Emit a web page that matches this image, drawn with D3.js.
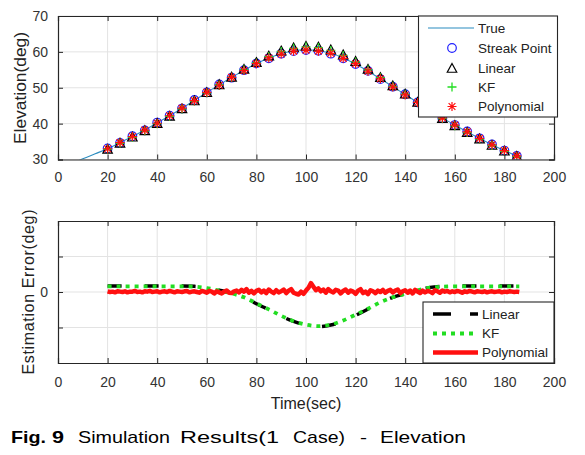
<!DOCTYPE html>
<html><head><meta charset="utf-8">
<script src="https://cdn.jsdelivr.net/npm/d3@7"></script>
<style>
html,body{margin:0;padding:0;background:#fff;}
svg{display:block;font-family:"Liberation Sans",Arial,sans-serif;}
</style></head>
<body><svg id="c" width="585" height="455"></svg>
<script>
// ---- data ----
const trueTime = [5,10,15,20,25,30,35,40,45,50,55,60,65,70,75,80,85,90,95,100,105,110,115,120,125,130,135,140,145,150,155,160,165,170,175,180,185];
const trueElev = [28.5,30.2,31.6,33.0,34.7,36.4,38.2,40.2,42.2,44.3,46.5,48.7,50.8,52.9,54.9,56.7,58.3,59.5,60.3,60.6,60.3,59.6,58.3,56.6,54.6,52.5,50.3,48.1,45.9,43.7,41.6,39.6,37.7,35.9,34.1,32.5,31.0];

const markTime = [20,25,30,35,40,45,50,55,60,65,70,75,80,85,90,95,100,105,110,115,120,125,130,135,140,145,150,155,160,165,170,175,180,185];
const streakElev = [33.1,34.6,36.5,38.1,40.3,42.2,44.2,46.6,48.7,50.9,52.8,54.9,56.8,58.2,59.5,60.2,60.5,60.3,59.5,58.2,56.6,54.7,52.4,50.3,48.2,45.9,43.8,41.5,39.6,37.8,35.9,34.2,32.5,31.0];
const linearElev = [32.8,34.5,36.2,38.0,40.0,42.0,44.1,46.3,48.6,50.8,52.9,55.1,57.0,58.8,60.2,61.1,61.5,61.3,60.5,59.1,57.3,55.1,52.8,50.5,48.2,45.9,43.6,41.4,39.4,37.5,35.7,33.9,32.3,30.8];
const kfElev = [32.9,34.5,36.2,38.0,40.0,42.0,44.1,46.3,48.6,50.8,52.9,55.0,56.9,58.7,60.1,61.0,61.4,61.2,60.4,59.0,57.2,55.0,52.8,50.4,48.2,45.9,43.6,41.4,39.4,37.5,35.7,33.9,32.3,30.8];
const polyElev = [33.0,34.7,36.4,38.2,40.1,42.2,44.3,46.4,48.7,50.7,52.9,54.8,56.7,58.3,59.4,60.2,60.5,60.2,59.6,58.2,56.7,54.6,52.5,50.2,48.0,45.9,43.7,41.6,39.6,37.7,35.9,34.1,32.5,31.0];

const errTime = [20,25,30,35,40,45,50,55,60,65,70,75,80,85,90,95,100,105,110,115,120,125,130,135,140,145,150,155,160,165,170,175,180,186];
const linearErr = [0.17,0.17,0.17,0.17,0.17,0.17,0.17,0.16,0.12,0.05,-0.03,-0.15,-0.33,-0.50,-0.68,-0.83,-0.93,-0.98,-0.93,-0.82,-0.66,-0.48,-0.30,-0.15,-0.05,0.05,0.13,0.16,0.17,0.17,0.17,0.17,0.17,0.17];
const kfErr = [0.16,0.16,0.16,0.16,0.16,0.16,0.16,0.15,0.11,0.04,-0.04,-0.15,-0.32,-0.49,-0.67,-0.82,-0.92,-0.96,-0.92,-0.80,-0.64,-0.47,-0.29,-0.15,-0.05,0.05,0.12,0.15,0.16,0.16,0.16,0.16,0.16,0.16];
const polyStart = 20;
const polyErr = [
0.02,0.00,0.01,-0.01,0.02,0.01,0.00,0.02,-0.01,0.01,
0.01,0.03,0.00,0.01,-0.01,0.02,0.01,0.03,0.00,0.01,
0.02,-0.01,0.01,0.02,0.00,0.03,0.01,-0.01,0.02,0.01,
0.00,0.02,0.03,-0.01,0.01,0.02,0.00,-0.02,0.03,0.01,
-0.02,0.03,0.01,-0.04,0.02,-0.01,-0.04,0.01,0.04,-0.02,
-0.03,0.02,0.04,-0.01,0.06,0.01,0.08,-0.02,0.03,-0.04,
0.03,0.06,-0.01,0.04,-0.03,0.07,0.01,-0.03,0.05,-0.01,
0.02,0.07,-0.03,0.04,0.08,-0.02,-0.05,-0.07,0.01,-0.05,
0.04,0.12,0.25,0.15,0.05,0.10,0.02,0.07,-0.02,0.08,
0.02,-0.01,0.06,0.04,-0.04,0.03,0.07,-0.02,0.04,0.01,
-0.05,0.04,0.08,-0.03,0.01,-0.06,0.05,0.02,-0.03,0.04,
0.00,0.06,-0.02,0.03,0.06,-0.01,0.04,0.07,-0.03,0.02,
0.05,-0.02,0.04,-0.04,0.06,0.01,-0.03,0.04,-0.01,0.03,
0.01,-0.03,0.05,0.02,-0.02,0.04,0.01,0.03,-0.01,0.02,
0.00,0.03,0.01,-0.02,0.02,0.00,0.03,0.01,-0.01,0.02,
0.01,0.00,0.02,-0.01,0.01,0.02,0.00,0.01,0.02,-0.01,
0.01,0.00,0.02,0.01,0.00,0.01,0.00];

const xTicks = [0,20,40,60,80,100,120,140,160,180,200];
const yTicksTop = [30,40,50,60,70];
const yTicksBot = [-1,0,1];
const yTickLabelsBot = ["","0",""];
const topLegend = ["True","Streak Point","Linear","KF","Polynomial"];
const botLegend = ["Linear","KF","Polynomial"];

// ---- drawing ----
const svg = d3.select("#c");
const AX = "#262626", TXT = "#333", GRID = "#e3e3e3";
const C_TRUE = "#2b8cbf", C_BLUE = "#2020ff", C_GREEN = "#22dd22", C_RED = "#ff1010";

const x = d3.scaleLinear().domain([0,200]).range([58,554]);
const yT = d3.scaleLinear().domain([30,70]).range([159.5,16]);
const yB = d3.scaleLinear().domain([-2,2]).range([363,221]);

const gridLayer = svg.append("g");
const gTop = svg.append("g").attr("clip-path","url(#clipT)");
const gBot = svg.append("g").attr("clip-path","url(#clipB)");
const axisLayer = svg.append("g");

function frame(y, yTicks, yLabels, xLabY, clipId){
  const [y0,y1] = y.range();
  const [x0,x1] = x.range();
  svg.append("clipPath").attr("id",clipId).append("rect")
    .attr("x",x0).attr("y",y1).attr("width",x1-x0).attr("height",y0-y1);
  const g = gridLayer.append("g");
  g.selectAll(".gx").data(xTicks.slice(1,-1)).join("line")
    .attr("x1",d=>x(d)).attr("x2",d=>x(d)).attr("y1",y0).attr("y2",y1)
    .attr("stroke",GRID).attr("stroke-width",1);
  g.selectAll(".gy").data(yTicks).join("line")
    .attr("x1",x0).attr("x2",x1).attr("y1",d=>y(d)).attr("y2",d=>y(d))
    .attr("stroke",GRID).attr("stroke-width",1);
  const ax = d3.axisBottom(x).tickValues(xTicks).tickSize(-5).tickPadding(13).tickFormat(d3.format("d"));
  const gb = axisLayer.append("g").attr("transform",`translate(0,${y0})`).call(ax);
  const axT = d3.axisTop(x).tickValues(xTicks).tickSize(-5).tickFormat("");
  const gt = axisLayer.append("g").attr("transform",`translate(0,${y1})`).call(axT);
  const ayL = d3.axisLeft(y).tickValues(yTicks).tickSize(-5).tickPadding(10).tickFormat((d,i)=>yLabels[i]);
  const gl = axisLayer.append("g").attr("transform",`translate(${x0},0)`).call(ayL);
  const ayR = d3.axisRight(y).tickValues(yTicks).tickSize(-5).tickFormat("");
  const gr = axisLayer.append("g").attr("transform",`translate(${x1},0)`).call(ayR);
  [gb,gt,gl,gr].forEach(a=>{
    a.select(".domain").attr("stroke",AX).attr("stroke-width",1.2);
    a.selectAll(".tick line").attr("stroke",AX);
    a.selectAll("text").attr("fill",TXT).style("font-size","14px").style("font-family","'Liberation Sans',Arial,sans-serif");
  });
  gb.selectAll(".tick text").attr("dy",null).attr("y", xLabY - y0);
}

frame(yT, yTicksTop, yTicksTop.map(String), 182, "clipT");
frame(yB, yTicksBot, yTickLabelsBot, 387, "clipB");

// --- top plot ---
const lineT = d3.line().x((d,i)=>x(trueTime[i])).y(d=>yT(d)).curve(d3.curveMonotoneX);
gTop.append("path").datum(trueElev).attr("d",lineT).attr("fill","none").attr("stroke",C_TRUE).attr("stroke-width",1.1);

function circleM(g,cx,cy,col){ g.append("circle").attr("cx",cx).attr("cy",cy).attr("r",4.3).attr("fill","none").attr("stroke",col).attr("stroke-width",1.2); }
function triM(g,cx,cy,col){ const s=5; g.append("path").attr("d",`M${cx},${cy-s}L${cx+s*0.95},${cy+s*0.75}L${cx-s*0.95},${cy+s*0.75}Z`).attr("fill","none").attr("stroke",col).attr("stroke-width",1.2); }
function plusM(g,cx,cy,col){ const s=4.5; g.append("path").attr("d",`M${cx-s},${cy}H${cx+s}M${cx},${cy-s}V${cy+s}`).attr("stroke",col).attr("stroke-width",1.3); }
function starM(g,cx,cy,col){ const s=4.5, d=s*0.75; g.append("path").attr("d",`M${cx-s},${cy}H${cx+s}M${cx},${cy-s}V${cy+s}M${cx-d},${cy-d}L${cx+d},${cy+d}M${cx-d},${cy+d}L${cx+d},${cy-d}`).attr("stroke",col).attr("stroke-width",1.2); }

markTime.forEach((t,i)=>circleM(gTop,x(t),yT(streakElev[i]),C_BLUE));
markTime.forEach((t,i)=>triM(gTop,x(t),yT(linearElev[i]),"#000"));
markTime.forEach((t,i)=>plusM(gTop,x(t),yT(kfElev[i]),C_GREEN));
markTime.forEach((t,i)=>starM(gTop,x(t),yT(polyElev[i]),C_RED));

// --- bottom plot ---
const lineE = d3.line().x((d,i)=>x(errTime[i])).y(d=>yB(d)).curve(d3.curveMonotoneX);
gBot.append("path").datum(linearErr).attr("d",lineE).attr("fill","none").attr("stroke","#000").attr("stroke-width",3.5).attr("stroke-dasharray","14,23");
gBot.append("path").datum(kfErr).attr("d",lineE).attr("fill","none").attr("stroke",C_GREEN).attr("stroke-width",3.8).attr("stroke-dasharray","4,5");
const lineP = d3.line().x((d,i)=>x(polyStart+i)).y(d=>yB(d));
gBot.append("path").datum(polyErr).attr("d",lineP).attr("fill","none").attr("stroke",C_RED).attr("stroke-width",4.5).attr("stroke-linejoin","round");

// --- legends ---
const lgT = svg.append("g");
lgT.append("rect").attr("x",418.5).attr("y",16).attr("width",139).attr("height",101).attr("fill","#fff").attr("stroke",AX).attr("stroke-width",1.1);
const rowsT = [28,48,68,87,106.5];
topLegend.forEach((s,i)=>{
  lgT.append("text").attr("x",478).attr("y",rowsT[i]).attr("dy","0.35em").attr("fill","#222").style("font-size","13.5px").text(s);
});
lgT.append("line").attr("x1",428).attr("x2",474).attr("y1",rowsT[0]).attr("y2",rowsT[0]).attr("stroke",C_TRUE).attr("stroke-width",1.1);
circleM(lgT,452,rowsT[1],C_BLUE);
triM(lgT,452,rowsT[2]+0.5,"#000");
plusM(lgT,452,rowsT[3],C_GREEN);
starM(lgT,452,rowsT[4],C_RED);

const lgB = svg.append("g");
lgB.append("rect").attr("x",423).attr("y",302).attr("width",131).attr("height",61).attr("fill","#fff").attr("stroke",AX).attr("stroke-width",1.1);
const rowsB = [314,333.5,352.5];
botLegend.forEach((s,i)=>{
  lgB.append("text").attr("x",482).attr("y",rowsB[i]).attr("dy","0.35em").attr("fill","#222").style("font-size","13.5px").text(s);
});
lgB.append("line").attr("x1",433).attr("x2",478).attr("y1",rowsB[0]).attr("y2",rowsB[0]).attr("stroke","#000").attr("stroke-width",3.5).attr("stroke-dasharray","18,19");
lgB.append("line").attr("x1",433).attr("x2",478).attr("y1",rowsB[1]).attr("y2",rowsB[1]).attr("stroke",C_GREEN).attr("stroke-width",3.8).attr("stroke-dasharray","4,5");
lgB.append("line").attr("x1",433).attr("x2",478).attr("y1",rowsB[2]).attr("y2",rowsB[2]).attr("stroke",C_RED).attr("stroke-width",4.5);

// --- axis labels ---
svg.append("text").attr("transform","translate(26,88) rotate(-90)").attr("text-anchor","middle")
  .attr("fill","#222").style("font-size","16px").attr("textLength",112).attr("lengthAdjust","spacingAndGlyphs").text("Elevation(deg)");
svg.append("text").attr("transform","translate(34,292) rotate(-90)").attr("text-anchor","middle")
  .attr("fill","#222").style("font-size","16px").attr("textLength",165).attr("lengthAdjust","spacing").text("Estimation Error(deg)");
svg.append("text").attr("x",306).attr("y",409).attr("text-anchor","middle")
  .attr("fill","#222").style("font-size","16px").text("Time(sec)");

// --- caption ---
const capWords = [["Fig.",11,35,true],["9",52,12,true],["Simulation",78,92,false],["Results(1",180,99,false],["Case)",293,52,false],["-",360,7,false],["Elevation",380,86,false]];
capWords.forEach(([w,px,len,b])=>{
  svg.append("text").attr("x",px).attr("y",443).attr("fill","#000").style("font-size","17px")
    .style("font-weight", b ? "bold" : "normal")
    .attr("textLength",len).attr("lengthAdjust","spacingAndGlyphs").text(w);
});
</script></body></html>
